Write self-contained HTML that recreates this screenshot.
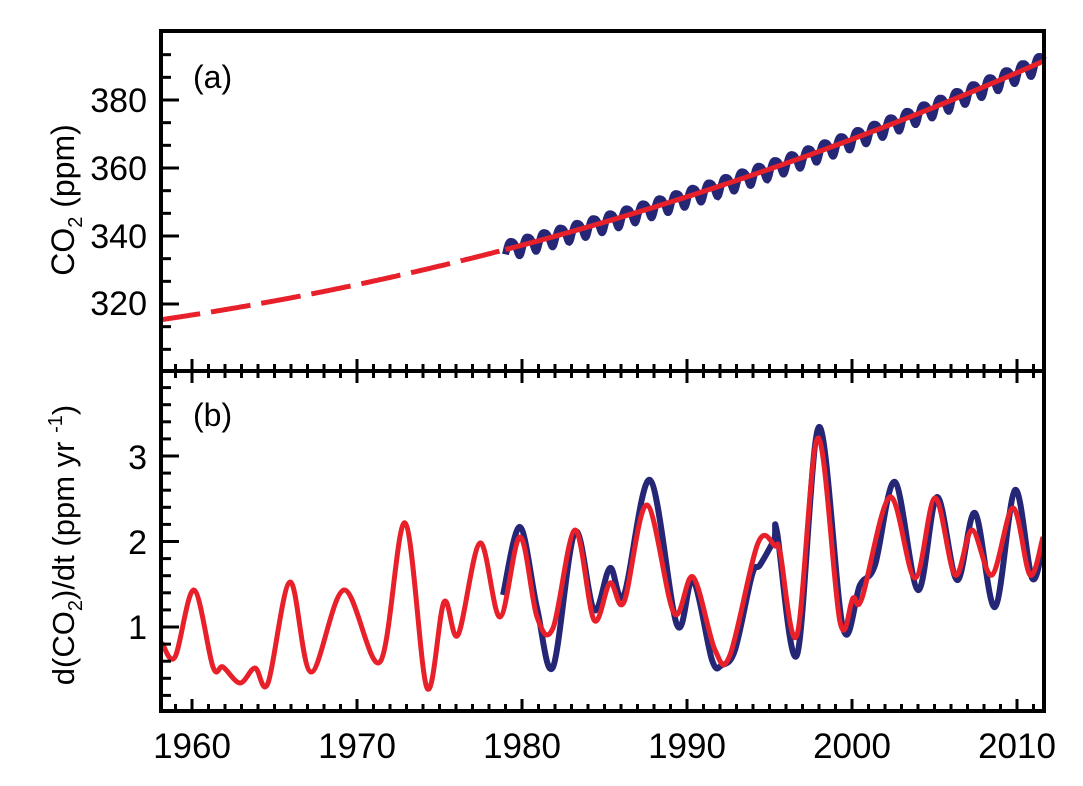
<!DOCTYPE html>
<html><head><meta charset="utf-8"><style>
body{margin:0;background:#fff}
svg{display:block}
text{font-family:"Liberation Sans",sans-serif;fill:#000}
</style></head><body>
<svg id="s" width="1083" height="786" viewBox="0 0 1083 786">
<g id="data"></g>
<g id="ax" stroke="#000" fill="none"></g>
<g font-size="34">
<text x="147" y="112" text-anchor="end">380</text>
<text x="147" y="180" text-anchor="end">360</text>
<text x="147" y="248" text-anchor="end">340</text>
<text x="147" y="315" text-anchor="end">320</text>
<text x="147" y="469" text-anchor="end">3</text>
<text x="147" y="554" text-anchor="end">2</text>
<text x="147" y="639" text-anchor="end">1</text>
<text x="192" y="758" text-anchor="middle" font-size="35">1960</text>
<text x="357" y="758" text-anchor="middle" font-size="35">1970</text>
<text x="522" y="758" text-anchor="middle" font-size="35">1980</text>
<text x="687" y="758" text-anchor="middle" font-size="35">1990</text>
<text x="852" y="758" text-anchor="middle" font-size="35">2000</text>
<text x="1017" y="758" text-anchor="middle" font-size="35">2010</text>
<text x="193" y="88" font-size="32">(a)</text>
<text x="193" y="426" font-size="32">(b)</text>
<text transform="translate(74,200) rotate(-90)" text-anchor="middle" font-size="32">CO<tspan font-size="20" dy="8">2</tspan><tspan dy="-8"> (ppm)</tspan></text>
<text transform="translate(74,545) rotate(-90)" text-anchor="middle" font-size="31">d(CO<tspan font-size="20" dy="8">2</tspan><tspan dy="-8">)/dt (ppm yr </tspan><tspan font-size="20" dy="-12">-1</tspan><tspan dy="12">)</tspan></text>
</g>
</svg>
<script>
var NS="http://www.w3.org/2000/svg";
function el(p,t,a){var e=document.createElementNS(NS,t);for(var k in a)e.setAttribute(k,a[k]);p.appendChild(e);return e;}
var ax=document.getElementById('ax'),dg=document.getElementById('data');
function X(yr){return 192+(yr-1960)*16.5;}
el(ax,'rect',{x:161,y:31,width:883,height:680,'stroke-width':4});
el(ax,'line',{x1:161,y1:371,x2:1044,y2:371,'stroke-width':4});
for(var y=1959;y<=2011;y++){var x=X(y);var maj=(y%10==0);
 el(ax,'line',{x1:x,y1:711,x2:x,y2:711-(maj?12:7),'stroke-width':3});
 el(ax,'line',{x1:x,y1:371,x2:x,y2:371-(maj?12:7),'stroke-width':3});
 el(ax,'line',{x1:x,y1:371,x2:x,y2:371+(maj?12:7),'stroke-width':3});}
for(var k=-4;k<=12;k++){var yy=100+k*68/3;if(yy<36||yy>366)continue;var maj=(k%3==0);
 el(ax,'line',{x1:161,y1:yy,x2:161+(maj?18:10),y2:yy,'stroke-width':3});}
for(var v=0.2;v<4;v+=0.2){var yy=627-(v-1)*85.5;var maj=Math.abs(v-Math.round(v))<0.01;
 el(ax,'line',{x1:161,y1:yy,x2:161+(maj?18:10),y2:yy,'stroke-width':3});}
function cr(p){var d='M'+p[0][0]+','+p[0][1];for(var i=0;i<p.length-1;i++){var p0=p[i-1]||p[i],p1=p[i],p2=p[i+1],p3=p[i+2]||p2;
 d+=' C'+(p1[0]+(p2[0]-p0[0])/6)+','+(p1[1]+(p2[1]-p0[1])/6)+' '+(p2[0]-(p3[0]-p1[0])/6)+','+(p2[1]-(p3[1]-p1[1])/6)+' '+p2[0]+','+p2[1];}return d;}
function co2(t){var d=t-1958;return 315.3+0.707*d+0.0133*d*d;}
function Y(c){return 100+(380-c)*3.4;}
var b=[];for(var t=1979;t<=2011.6;t+=0.02){b.push([X(t),Y(co2(t)+2.4*Math.sin(2*Math.PI*(t-0.1))+0.5*Math.sin(4*Math.PI*t))]);}
function pl(a){return 'M'+a.map(function(p){return p[0].toFixed(1)+','+p[1].toFixed(1)}).join(' L');}
el(dg,'path',{d:pl(b),stroke:'#252776','stroke-width':7,fill:'none'});
var r1=[],r2=[];for(var t=1958.1;t<=1979.01;t+=0.1)r1.push([X(t),Y(co2(t))]);for(var t=1979;t<=2011.6;t+=0.1)r2.push([X(t),Y(co2(t))]);
el(dg,'path',{d:pl(r1),stroke:'#e8202a','stroke-width':5,fill:'none','stroke-dasharray':'40 11'});
el(dg,'path',{d:pl(r2),stroke:'#e8202a','stroke-width':5,fill:'none'});
var blue=[[503,595],[520,527],[537,608],[553,667],[575,532],[594,610],[610,568],[624,595],[650,480],[677,625],[693,580],[712,660],[722,665],[735,650],[752,575],[760,565],[774,540],[777,532],[797,655],[819,427],[843,628],[860,585],[875,565],[895,482],[918,590],[937,497],[957,580],[975,513],[995,607],[1015,490],[1032,578],[1043,545]];
var red=[[162,643],[175,657],[194,590],[213,667],[223,667],[240,683],[255,668],[268,683],[290,582],[311,672],[344,590],[380,662],[405,523],[427,688],[444,602],[458,635],[480,543],[500,617],[520,537],[537,617],[553,628],[575,530],[594,620],[610,583],[624,602],[647,505],[674,613],[693,577],[715,650],[730,655],[758,543],[775,546],[780,552],[797,635],[818,438],[840,622],[853,598],[862,598],[890,497],[915,578],[935,498],[955,575],[972,530],[992,575],[1013,508],[1030,575],[1043,537]];
el(dg,'path',{d:cr(blue),stroke:'#252776','stroke-width':6,fill:'none'});
el(dg,'path',{d:cr(red),stroke:'#e8202a','stroke-width':5,fill:'none'});
</script>
</body></html>
